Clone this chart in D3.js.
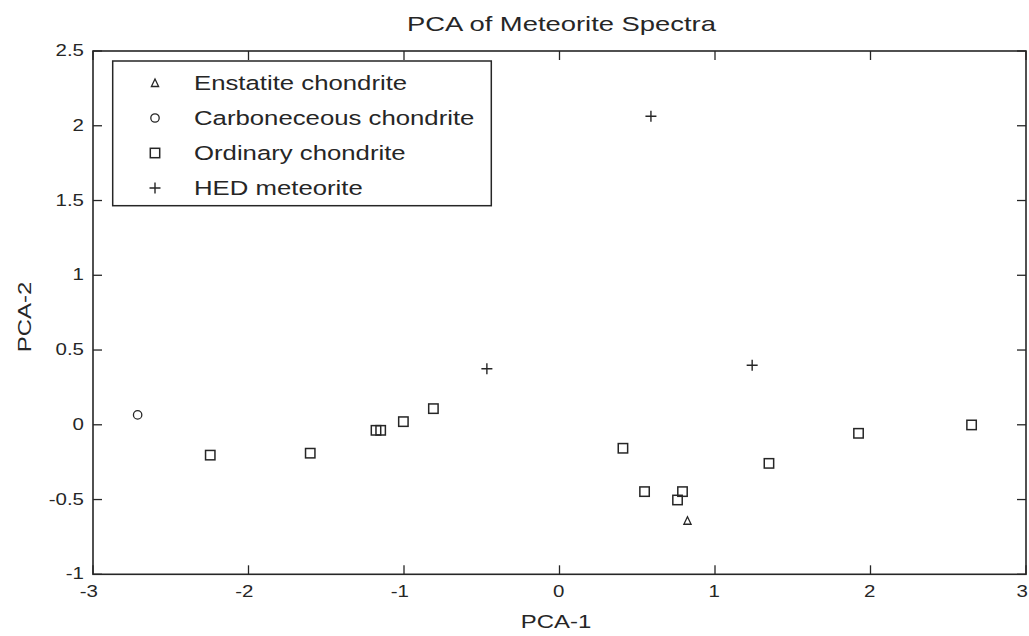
<!DOCTYPE html>
<html><head><meta charset="utf-8">
<script src="https://cdn.jsdelivr.net/npm/d3@7"></script>
<style>
html,body{margin:0;padding:0;background:#fff;}
svg{display:block;}
text{font-family:"Liberation Sans",Arial,sans-serif;fill:#262626;}
</style></head>
<body>
<svg id="chart" width="1029" height="636"></svg>
<script>
const title = "PCA of Meteorite Spectra";
const xLabel = "PCA-1";
const yLabel = "PCA-2";
const xTicks = [-3,-2,-1,0,1,2,3];
const yTicks = [-1,-0.5,0,0.5,1,1.5,2,2.5];
const legendLabels = ["Enstatite chondrite","Carboneceous chondrite","Ordinary chondrite","HED meteorite"];
const legendSymbols = ["triangle","circle","square","plus"];

const enstatite = [[0.823,-0.642]];
const carbonaceous = [[-2.713,0.066]];
const ordinary = [
  [-2.246,-0.203],[-1.603,-0.19],[-1.18,-0.037],[-1.15,-0.037],[-1.004,0.021],
  [-0.811,0.108],[0.408,-0.157],[0.547,-0.447],[0.791,-0.447],[0.759,-0.503],
  [1.347,-0.258],[1.923,-0.057],[2.65,-0.001]
];
const hed = [[0.588,2.064],[-0.467,0.375],[1.239,0.398]];

const svg = d3.select("#chart");
const L=93, R=1026, T=51, B=574.3;
const x = d3.scaleLinear().domain([-3,3]).range([L,R]);
const y = d3.scaleLinear().domain([-1,2.5]).range([B,T]);
const ink = "#262626";
const TL = 9;

// ticks on all sides (inward)
const g = svg.append("g");
xTicks.forEach(t=>{
  g.append("line").attr("x1",x(t)).attr("x2",x(t)).attr("y1",B).attr("y2",B-TL).attr("stroke",ink).attr("stroke-width",1.3);
  g.append("line").attr("x1",x(t)).attr("x2",x(t)).attr("y1",T).attr("y2",T+TL).attr("stroke",ink).attr("stroke-width",1.3);
});
yTicks.forEach(t=>{
  g.append("line").attr("x1",L).attr("x2",L+TL).attr("y1",y(t)).attr("y2",y(t)).attr("stroke",ink).attr("stroke-width",1.3);
  g.append("line").attr("x1",R).attr("x2",R-TL).attr("y1",y(t)).attr("y2",y(t)).attr("stroke",ink).attr("stroke-width",1.3);
});
g.append("rect").attr("x",L).attr("y",T).attr("width",R-L).attr("height",B-T)
  .attr("fill","none").attr("stroke",ink).attr("stroke-width",1.6);

function wideText(parent, str, px, py, size, sx, anchor, rotate){
  const gg = parent.append("g").attr("transform", `translate(${px},${py})` + (rotate?` rotate(${rotate})`:"") + ` scale(${sx},1)`);
  gg.append("text").attr("text-anchor",anchor).style("font-size",size+"px").text(str);
  return gg;
}

const fmt = d => String(d);
xTicks.forEach(t=> wideText(svg, fmt(t), Math.min(x(t)+5, 1028), 597, 16, 1.28, "end"));
yTicks.forEach(t=> wideText(svg, fmt(t), 84, y(t)+5, 16, 1.28, "end"));

wideText(svg, title, (L+R)/2+2, 31, 20, 1.37, "middle");
wideText(svg, xLabel, 556, 628, 18, 1.33, "middle");
wideText(svg, yLabel, 31, 317, 18, 1.33, "middle", -90);

// symbols
function drawSym(parent, type, cx, cy){
  if(type==="square"){
    parent.append("rect").attr("x",cx-4.7).attr("y",cy-4.7).attr("width",9.4).attr("height",9.4)
      .attr("fill","none").attr("stroke",ink).attr("stroke-width",1.5);
  } else if(type==="circle"){
    parent.append("circle").attr("cx",cx).attr("cy",cy).attr("r",4.2)
      .attr("fill","none").attr("stroke",ink).attr("stroke-width",1.3);
  } else if(type==="triangle"){
    parent.append("path").attr("d",`M${cx},${cy-4}L${cx+3.6},${cy+3.5}L${cx-3.6},${cy+3.5}Z`)
      .attr("fill","none").attr("stroke",ink).attr("stroke-width",1.3);
  } else if(type==="plus"){
    parent.append("path").attr("d",`M${cx-5.5},${cy}H${cx+5.5}M${cx},${cy-5.5}V${cy+5.5}`)
      .attr("fill","none").attr("stroke",ink).attr("stroke-width",1.4);
  }
}
const pts = svg.append("g");
const series = [[enstatite,"triangle"],[carbonaceous,"circle"],[ordinary,"square"],[hed,"plus"]];
series.forEach(([data,type])=> data.forEach(d=> drawSym(pts, type, x(d[0]), y(d[1]))));

// legend
const lg = svg.append("g");
lg.append("rect").attr("x",112.7).attr("y",61).attr("width",378.6).attr("height",144.7)
  .attr("fill","#fff").attr("stroke",ink).attr("stroke-width",1.5);
legendLabels.forEach((lab,i)=>{
  const cy = 83 + i*35;
  drawSym(lg, legendSymbols[i], 155, cy);
  wideText(lg, lab, 194, cy+7, 19.5, 1.32, "start");
});
</script>
</body></html>
